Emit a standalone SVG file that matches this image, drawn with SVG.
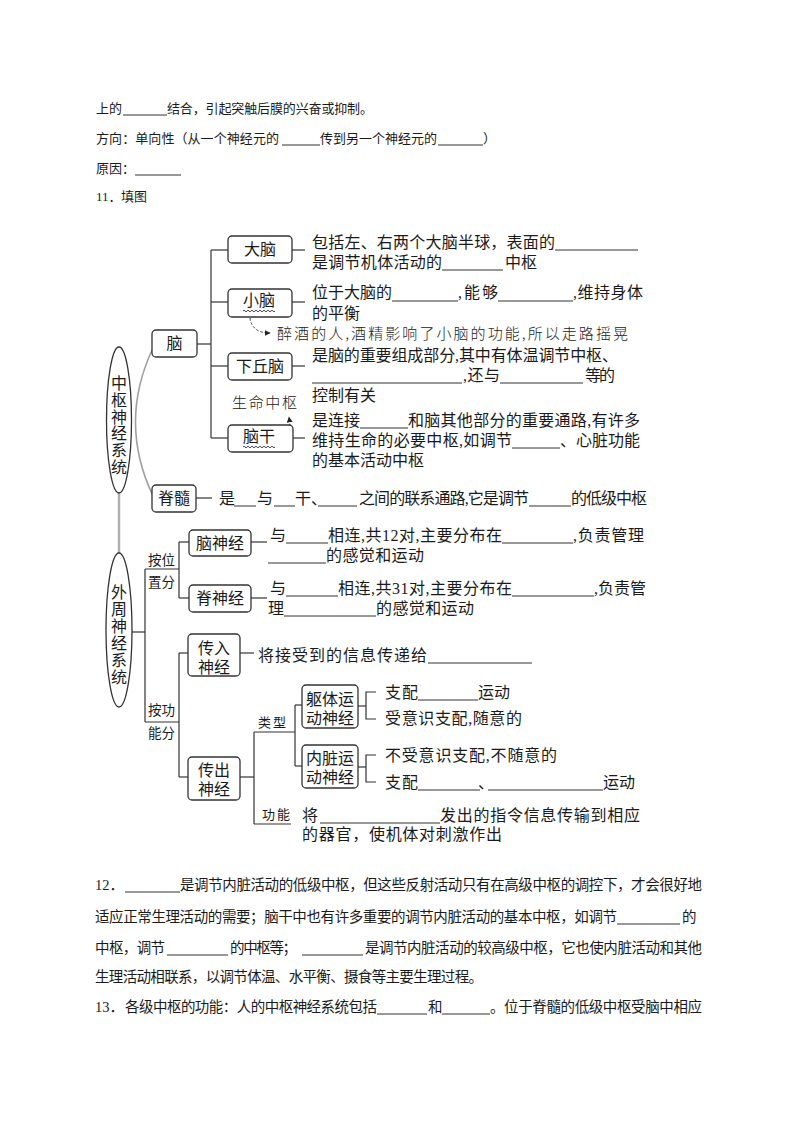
<svg xmlns="http://www.w3.org/2000/svg" width="800" height="1132" viewBox="0 0 800 1132">
<style>
.t{font-family:"Liberation Serif","Noto Sans CJK SC",serif;fill:#1a1a1a}
.b13{font-size:13px}
.d{font-size:16px}
.s14{font-size:14.5px}
.lb{font-size:13.5px}
.c{text-anchor:middle}
.box{fill:#fff;stroke:#333;stroke-width:1.3}
.ln{stroke:#333;stroke-width:1.2;fill:none}
.ul{stroke:#333;stroke-width:1}
.hw{font-family:"Noto Sans CJK SC",sans-serif;font-size:15px;font-weight:300;fill:#222}
.wv{stroke:#333;stroke-width:0.9;fill:none}
.dash{stroke:#333;stroke-width:1;fill:none;stroke-dasharray:2.5 2}
.gray{stroke:#a0a0a0;stroke-width:1.6;fill:none}
.ell{fill:#fff;stroke:#333;stroke-width:1.3}
</style>
<defs>
<marker id="ah" viewBox="0 0 10 10" refX="9" refY="5" markerWidth="6" markerHeight="6" orient="auto">
<path d="M0 0 L10 5 L0 10 z" fill="#222"/>
</marker>
</defs>
<rect width="800" height="1132" fill="#fff"/>

<!-- top text -->
<g id="top-text" class="t b13">
<text x="96" y="113">上的</text>
<line class="ul" x1="123" y1="115" x2="167" y2="115"/>
<text x="167" y="113" textLength="206">结合，引起突触后膜的兴奋或抑制。</text>
<text x="96" y="143" textLength="183">方向：单向性（从一个神经元的</text>
<line class="ul" x1="282" y1="145" x2="320" y2="145"/>
<text x="320" y="143" textLength="117">传到另一个神经元的</text>
<line class="ul" x1="438" y1="145" x2="483" y2="145"/>
<text x="483" y="143">）</text>
<text x="96" y="173" textLength="39">原因：</text>
<line class="ul" x1="135" y1="175" x2="181" y2="175"/>
<text x="96" y="201">11．</text>
<text x="121" y="201" textLength="26">填图</text>
</g>

<!-- connectors -->
<g id="connectors">
<path class="gray" d="M153 348 Q118 422 153 496"/>
<line x1="119" y1="493" x2="119" y2="553" stroke="#b0b0b0" stroke-width="2.5"/>
<!-- brain tree -->
<polyline class="ln" points="197,344 211,344"/>
<line class="ln" x1="211" y1="250" x2="211" y2="438"/>
<line class="ln" x1="211" y1="250" x2="228" y2="250"/>
<line class="ln" x1="211" y1="302" x2="228" y2="302"/>
<line class="ln" x1="211" y1="366" x2="228" y2="366"/>
<line class="ln" x1="211" y1="438" x2="228" y2="438"/>
<line class="ln" x1="292" y1="250" x2="305" y2="250"/>
<line class="ln" x1="292" y1="302" x2="305" y2="302"/>
<line class="ln" x1="292" y1="366" x2="305" y2="366"/>
<line class="ln" x1="292" y1="438" x2="305" y2="438"/>
<line class="ln" x1="196" y1="498" x2="212" y2="498"/>
<!-- peripheral -->
<line class="ln" x1="132" y1="632" x2="145" y2="632"/>
<line class="ln" x1="145" y1="569" x2="145" y2="722"/>
<line class="ln" x1="145" y1="569" x2="179" y2="569"/>
<line class="ln" x1="179" y1="542" x2="179" y2="598"/>
<line class="ln" x1="179" y1="542" x2="189" y2="542"/>
<line class="ln" x1="179" y1="598" x2="189" y2="598"/>
<line class="ln" x1="251" y1="542" x2="267" y2="542"/>
<line class="ln" x1="251" y1="598" x2="267" y2="598"/>
<line class="ln" x1="145" y1="722" x2="179" y2="722"/>
<line class="ln" x1="179" y1="653" x2="179" y2="777"/>
<line class="ln" x1="179" y1="653" x2="188" y2="653"/>
<line class="ln" x1="179" y1="777" x2="188" y2="777"/>
<line class="ln" x1="240" y1="653" x2="254" y2="653"/>
<line class="ln" x1="240" y1="777" x2="254" y2="777"/>
<line class="ln" x1="254" y1="732" x2="254" y2="824"/>
<line class="ln" x1="254" y1="732" x2="295" y2="732"/>
<line class="ln" x1="254" y1="824" x2="291" y2="824"/>
<line class="ln" x1="295" y1="705" x2="295" y2="766"/>
<line class="ln" x1="295" y1="705" x2="302" y2="705"/>
<line class="ln" x1="295" y1="766" x2="302" y2="766"/>
<line class="ln" x1="358" y1="706" x2="366" y2="706"/>
<polyline class="ln" points="376,692 366,692 366,719 376,719"/>
<line class="ln" x1="358" y1="767" x2="366" y2="767"/>
<polyline class="ln" points="376,755 366,755 366,782 376,782"/>
<!-- annotation arrows -->
<path class="dash" d="M250 318 Q252 333 270 333" marker-end="url(#ah)"/>
<path class="dash" d="M281 442 L290 424 L289 417" marker-end="url(#ah)"/>
</g>

<!-- nodes -->
<g id="cns">
<ellipse class="ell" cx="119" cy="420" rx="12.5" ry="73"/>
<text class="t d c" x="119"><tspan x="119" y="389">中</tspan><tspan x="119" y="406">枢</tspan><tspan x="119" y="423">神</tspan><tspan x="119" y="439">经</tspan><tspan x="119" y="456">系</tspan><tspan x="119" y="473">统</tspan></text>
</g>
<g id="pns">
<ellipse class="ell" cx="119" cy="630" rx="13" ry="77"/>
<text class="t d c" x="119"><tspan x="119" y="598">外</tspan><tspan x="119" y="615">周</tspan><tspan x="119" y="632">神</tspan><tspan x="119" y="649">经</tspan><tspan x="119" y="666">系</tspan><tspan x="119" y="683">统</tspan></text>
</g>

<g id="nao">
<rect class="box" x="152" y="330" width="45" height="27" rx="4"/>
<text class="t d c" x="174.5" y="349">脑</text>
</g>
<g id="danao">
<rect class="box" x="228" y="236" width="64" height="27" rx="4"/>
<text class="t d c" x="260" y="255">大脑</text>
</g>
<g id="xiaonao">
<rect class="box" x="228" y="289" width="64" height="28" rx="4"/>
<text class="t d c" x="259" y="306">小脑</text>
<path class="wv" d="M243 311 q1 -1.6 2 0 t2 0 t2 0 t2 0 t2 0 t2 0 t2 0 t2 0 t2 0 t2 0 t2 0 t2 0 t2 0 t2 0 t2 0 t2 0"/>
</g>
<g id="xiaqiunao">
<rect class="box" x="228" y="353" width="64" height="27" rx="4"/>
<text class="t d c" x="260" y="372">下丘脑</text>
</g>
<g id="naogan">
<rect class="box" x="228" y="425" width="65" height="27" rx="4"/>
<text class="t d c" x="259" y="442">脑干</text>
<path class="wv" d="M243 447 q1 -1.6 2 0 t2 0 t2 0 t2 0 t2 0 t2 0 t2 0 t2 0 t2 0 t2 0 t2 0 t2 0 t2 0 t2 0 t2 0 t2 0"/>
</g>
<g id="jisui">
<rect class="box" x="152" y="485" width="44" height="27" rx="4"/>
<text class="t d c" x="174" y="504">脊髓</text>
</g>
<g id="naoshenjing">
<rect class="box" x="189" y="530" width="62" height="26" rx="4"/>
<text class="t d c" x="220" y="548.5">脑神经</text>
</g>
<g id="jishenjing">
<rect class="box" x="189" y="585" width="62" height="27" rx="4"/>
<text class="t d c" x="220" y="604">脊神经</text>
</g>
<g id="chuanru">
<rect class="box" x="188" y="634" width="52" height="42" rx="4"/>
<text class="t d c"><tspan x="214" y="653.5">传入</tspan><tspan x="214" y="672.5">神经</tspan></text>
</g>
<g id="chuanchu">
<rect class="box" x="188" y="757" width="52" height="43" rx="4"/>
<text class="t d c"><tspan x="214" y="775.5">传出</tspan><tspan x="214" y="794.5">神经</tspan></text>
</g>
<g id="quti">
<rect class="box" x="302" y="685" width="56" height="43" rx="4"/>
<text class="t d c"><tspan x="330" y="704.5">躯体运</tspan><tspan x="330" y="723.5">动神经</tspan></text>
</g>
<g id="neizang">
<rect class="box" x="302" y="745" width="56" height="43" rx="4"/>
<text class="t d c"><tspan x="330" y="763.5">内脏运</tspan><tspan x="330" y="782.5">动神经</tspan></text>
</g>

<!-- branch labels -->
<g id="labels" class="t lb">
<text x="148" y="565" textLength="27">按位</text>
<text x="148" y="587" textLength="27">置分</text>
<text x="148" y="715" textLength="27">按功</text>
<text x="148" y="738" textLength="27">能分</text>
<text x="258" y="727" font-size="13" textLength="28">类型</text>
<text x="262" y="819" font-size="13" textLength="28">功能</text>
</g>

<!-- description texts -->
<g id="desc-danao" class="t d">
<text x="312" y="247.5" textLength="243">包括左、右两个大脑半球，表面的</text>
<line class="ul" x1="555" y1="250" x2="638" y2="250"/>
<text x="312" y="267.5" textLength="130">是调节机体活动的</text>
<line class="ul" x1="442" y1="270" x2="503" y2="270"/>
<text x="505" y="267.5" textLength="32">中枢</text>
</g>
<g id="desc-xiaonao" class="t d">
<text x="312" y="298" textLength="80">位于大脑的</text>
<line class="ul" x1="392" y1="301" x2="458" y2="301"/>
<text x="458" y="298" textLength="40">,能够</text>
<line class="ul" x1="498" y1="301" x2="573" y2="301"/>
<text x="573" y="298" textLength="70">,维持身体</text>
<text x="312" y="318.5" textLength="48">的平衡</text>
<text class="hw" x="277" y="338.5" textLength="351">醉酒的人,酒精影响了小脑的功能,所以走路摇晃</text>
</g>
<g id="desc-xiaqiunao" class="t d">
<text x="312" y="360.5" textLength="306">是脑的重要组成部分,其中有体温调节中枢、</text>
<line class="ul" x1="312" y1="383" x2="462" y2="383"/>
<text x="463" y="380.5" textLength="37">,还与</text>
<line class="ul" x1="500" y1="383" x2="583" y2="383"/>
<text x="585" y="380.5" textLength="30">等的</text>
<text x="312" y="400.5" textLength="64">控制有关</text>
<text class="hw" x="232" y="408" textLength="65">生命中枢</text>
</g>
<g id="desc-naogan" class="t d">
<text x="312" y="425.5" textLength="48">是连接</text>
<line class="ul" x1="360" y1="428" x2="408" y2="428"/>
<text x="408" y="425.5" textLength="232">和脑其他部分的重要通路,有许多</text>
<text x="312" y="445.5" textLength="200">维持生命的必要中枢,如调节</text>
<line class="ul" x1="512" y1="448" x2="560" y2="448"/>
<text x="560" y="445.5" textLength="80">、心脏功能</text>
<text x="312" y="465.5" textLength="112">的基本活动中枢</text>
</g>
<g id="desc-jisui" class="t d">
<text x="219" y="504" textLength="15">是</text>
<line class="ul" x1="234" y1="506" x2="256" y2="506"/>
<text x="257" y="504" textLength="15">与</text>
<line class="ul" x1="274" y1="506" x2="295" y2="506"/>
<text x="295" y="504">干、</text>
<line class="ul" x1="318" y1="506" x2="357" y2="506"/>
<text x="359" y="504" textLength="170">之间的联系通路,它是调节</text>
<line class="ul" x1="529" y1="506" x2="571" y2="506"/>
<text x="571" y="504" textLength="76">的低级中枢</text>
</g>
<g id="desc-naoshenjing" class="t d">
<text x="270" y="540.5" textLength="16">与</text>
<line class="ul" x1="286" y1="543" x2="328" y2="543"/>
<text x="328" y="540.5" textLength="174">相连,共12对,主要分布在</text>
<line class="ul" x1="502" y1="543" x2="573" y2="543"/>
<text x="573" y="540.5" textLength="71">,负责管理</text>
<line class="ul" x1="268" y1="563" x2="326" y2="563"/>
<text x="326" y="560.5" textLength="98">的感觉和运动</text>
</g>
<g id="desc-jishenjing" class="t d">
<text x="270" y="593.5" textLength="16">与</text>
<line class="ul" x1="286" y1="596" x2="338" y2="596"/>
<text x="338" y="593.5" textLength="174">相连,共31对,主要分布在</text>
<line class="ul" x1="512" y1="596" x2="594" y2="596"/>
<text x="594" y="593.5" textLength="52">,负责管</text>
<text x="268" y="613.5" textLength="16">理</text>
<line class="ul" x1="284" y1="616" x2="376" y2="616"/>
<text x="376" y="613.5" textLength="98">的感觉和运动</text>
</g>
<g id="desc-chuanru" class="t d">
<text x="258" y="660.5" textLength="169">将接受到的信息传递给</text>
<line class="ul" x1="428" y1="663" x2="532" y2="663"/>
</g>
<g id="desc-quti" class="t d">
<text x="385" y="697.5" textLength="33">支配</text>
<line class="ul" x1="418" y1="700" x2="478" y2="700"/>
<text x="478" y="697.5" textLength="32">运动</text>
<text x="385" y="723.5" textLength="137">受意识支配,随意的</text>
</g>
<g id="desc-neizang" class="t d">
<text x="385" y="760.5" textLength="172">不受意识支配,不随意的</text>
<text x="385" y="787.5" textLength="33">支配</text>
<line class="ul" x1="418" y1="790" x2="480" y2="790"/>
<text x="478" y="787.5">、</text>
<line class="ul" x1="488" y1="790" x2="603" y2="790"/>
<text x="603" y="787.5" textLength="32">运动</text>
</g>
<g id="desc-gongneng" class="t d">
<text x="302" y="820.5" textLength="16">将</text>
<line class="ul" x1="320" y1="823" x2="440" y2="823"/>
<text x="440" y="820.5" textLength="200">发出的指令信息传输到相应</text>
<text x="302" y="840" textLength="200">的器官，使机体对刺激作出</text>
</g>

<!-- bottom text -->
<g id="bottom-text" class="t s14">
<text x="95" y="890">12．</text>
<line class="ul" x1="125" y1="892" x2="180" y2="892"/>
<text x="180" y="890" textLength="522">是调节内脏活动的低级中枢，但这些反射活动只有在高级中枢的调控下，才会很好地</text>
<text x="95" y="922" textLength="522">适应正常生理活动的需要；脑干中也有许多重要的调节内脏活动的基本中枢，如调节</text>
<line class="ul" x1="617" y1="924" x2="680" y2="924"/>
<text x="682" y="922">的</text>
<text x="95" y="953" textLength="70">中枢，调节</text>
<line class="ul" x1="167" y1="955" x2="228" y2="955"/>
<text x="230" y="953" textLength="67">的中枢等；</text>
<line class="ul" x1="302" y1="955" x2="363" y2="955"/>
<text x="365" y="953" textLength="337">是调节内脏活动的较高级中枢，它也使内脏活动和其他</text>
<text x="95" y="982" textLength="388">生理活动相联系，以调节体温、水平衡、摄食等主要生理过程。</text>
<text x="95" y="1012">13．</text>
<text x="125" y="1012" textLength="252">各级中枢的功能：人的中枢神经系统包括</text>
<line class="ul" x1="377" y1="1014" x2="427" y2="1014"/>
<text x="428" y="1012" textLength="14">和</text>
<line class="ul" x1="442" y1="1014" x2="490" y2="1014"/>
<text x="490" y="1012" textLength="212">。位于脊髓的低级中枢受脑中相应</text>
</g>
</svg>
